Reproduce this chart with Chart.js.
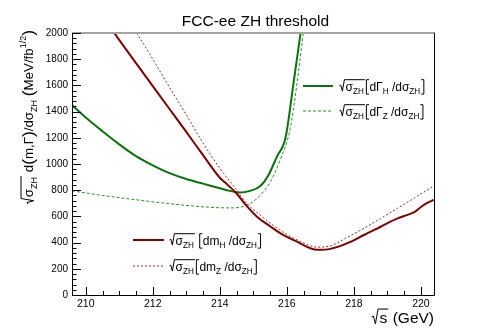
<!DOCTYPE html>
<html>
<head>
<meta charset="utf-8">
<script src="https://cdn.jsdelivr.net/npm/chart.js@4.4.0/dist/chart.umd.min.js"></script>
<style>
  html, body { margin: 0; padding: 0; background: #fff; }
  #c { display: block; }
</style>
</head>
<body>
<canvas id="c" width="482" height="328"></canvas>
<script>
// FCC-ee ZH threshold scan

const xTicks = [210, 212, 214, 216, 218, 220];
const yTicks = [0, 200, 400, 600, 800, 1000, 1200, 1400, 1600, 1800, 2000];

// sqrt(sigma_ZH) dm_H / dsigma_ZH
const dmHx = [210.85, 211.5, 212.0, 212.5, 213.0, 213.5, 214.0, 214.15, 214.5, 214.8, 215.1, 215.5, 215.8, 216.3, 216.9, 217.3, 217.9, 218.3, 218.8, 219.3, 219.6, 219.8, 220.0, 220.2, 220.38];
const dmHy = [2000, 1770, 1595, 1420, 1245, 1068, 895, 860, 775, 680, 600, 525, 472, 407, 345, 352, 405, 458, 521, 585, 612, 632, 672, 705, 725];

// sqrt(sigma_ZH) dm_Z / dsigma_ZH
const dmZx = [211.52, 212.0, 212.5, 213.0, 213.5, 214.0, 214.4, 214.8, 215.2, 215.6, 216.0, 216.5, 216.9, 217.3, 217.8, 218.3, 218.8, 219.3, 219.8, 220.38];
const dmZy = [2000, 1800, 1585, 1375, 1160, 968, 835, 700, 612, 530, 462, 398, 365, 375, 440, 509, 585, 662, 740, 832];

// sqrt(sigma_ZH) dGamma_H / dsigma_ZH
const gHx = [209.59, 210.0, 210.5, 211.0, 211.5, 212.0, 212.5, 213.0, 213.5, 214.0, 214.3, 214.6, 214.9, 215.2, 215.45, 215.7, 215.96, 216.2, 216.41];
const gHy = [1450, 1355, 1250, 1150, 1060, 990, 930, 885, 850, 815, 795, 782, 795, 830, 915, 1055, 1200, 1620, 2000];

// sqrt(sigma_ZH) dGamma_Z / dsigma_ZH
const gZx = [209.59, 210.5, 211.5, 212.5, 213.5, 214.0, 214.4, 214.75, 215.1, 215.5, 215.8, 216.1, 216.3, 216.49];
const gZy = [795, 760, 727, 697, 673, 666, 665, 680, 735, 860, 1030, 1270, 1610, 2000];

const RED = '#7d0000';
const RED_D = '#8e2a2a';
const GREEN = '#0b730b';
const GREEN_D = '#2f8f2f';
const FONT = '"Liberation Sans", Arial, sans-serif';

function pts(xs, ys) {
  return xs.map((v, i) => ({x: v, y: ys[i]}));
}

// draws text with sub/superscripts, radicals and brackets
function rich(ctx, segs, x, y, s, draw) {
  let cx = x;
  for (const g of segs) {
    if (g.sq) {
      const w = rich(ctx, g.sq, cx + s * 0.55, y, s, draw);
      const x1 = cx + s * 0.55 + w + 1;
      if (draw) {
        ctx.beginPath();
        ctx.moveTo(cx + 0.5, y - s * 0.38);
        ctx.lineTo(cx + s * 0.15, y - s * 0.45);
        ctx.lineTo(cx + s * 0.28, y + s * 0.05);
        ctx.lineTo(cx + s * 0.45, y - s * 0.9);
        ctx.lineTo(x1, y - s * 0.9);
        ctx.stroke();
      }
      cx = x1;
    } else if (g.br) {
      if (draw) {
        const bx = g.br === '[' ? cx + 1.5 : cx + s * 0.3;
        const tx = g.br === '[' ? bx + s * 0.22 : bx - s * 0.22;
        ctx.beginPath();
        ctx.moveTo(tx, y - s * 0.9);
        ctx.lineTo(bx, y - s * 0.9);
        ctx.lineTo(bx, y + s * 0.3);
        ctx.lineTo(tx, y + s * 0.3);
        ctx.stroke();
      }
      cx += s * 0.38;
    } else {
      const fs = (g.sub || g.sup) ? s * 0.68 : (g.big ? s * 1.3 : s);
      ctx.font = fs + 'px ' + FONT;
      const dy = g.sub ? s * 0.28 : (g.sup ? -s * 0.5 : (g.big ? s * 0.08 : 0));
      if (draw) ctx.fillText(g.t, cx, y + dy);
      cx += ctx.measureText(g.t).width;
    }
  }
  return cx - x;
}

const sqrtSig = {sq: [{t: 'σ'}, {t: 'ZH', sub: 1}]};

const yTitle = [sqrtSig, {t: ' d'}, {t: '(', big: 1}, {t: 'm,Γ'}, {t: ')', big: 1},
  {t: '/dσ'}, {t: 'ZH', sub: 1}, {t: ' '}, {t: '(', big: 1}, {t: 'MeV/fb'}, {t: '1/2', sup: 1}, {t: ')', big: 1}];
const xTitle = [{sq: [{t: 's'}]}, {t: ' (GeV)'}];

const legGreen = [
  {seg: [sqrtSig, {br: '['}, {t: 'dΓ'}, {t: 'H', sub: 1}, {t: ' /dσ'}, {t: 'ZH', sub: 1}, {br: ']'}], color: GREEN, w: 2, dash: []},
  {seg: [sqrtSig, {br: '['}, {t: 'dΓ'}, {t: 'Z', sub: 1}, {t: ' /dσ'}, {t: 'ZH', sub: 1}, {br: ']'}], color: GREEN_D, w: 1, dash: [3, 2]}
];
const legRed = [
  {seg: [sqrtSig, {t: ' '}, {br: '['}, {t: 'dm'}, {t: 'H', sub: 1}, {t: ' /dσ'}, {t: 'ZH', sub: 1}, {br: ']'}], color: RED, w: 2, dash: []},
  {seg: [sqrtSig, {br: '['}, {t: 'dm'}, {t: 'Z', sub: 1}, {t: ' /dσ'}, {t: 'ZH', sub: 1}, {br: ']'}], color: RED_D, w: 1, dash: [2, 2]}
];

function drawLegend(ctx, items, x0, x1, tx, y0, dy) {
  items.forEach((it, i) => {
    const yy = y0 + i * dy;
    ctx.save();
    ctx.strokeStyle = it.color;
    ctx.lineWidth = it.w;
    ctx.setLineDash(it.dash);
    ctx.beginPath();
    ctx.moveTo(x0, yy);
    ctx.lineTo(x1, yy);
    ctx.stroke();
    ctx.restore();
    rich(ctx, it.seg, tx, yy + 4.5, 12, true);
  });
}

const frame = {
  id: 'frame',
  afterDraw(chart) {
    const {ctx, chartArea: a, scales: {x, y}} = chart;
    ctx.save();
    ctx.fillStyle = '#a3a3a3';
    ctx.fillRect(a.left, a.top - 1, a.right - a.left + 1, 2);
    ctx.strokeStyle = '#000';
    ctx.lineWidth = 1;
    ctx.beginPath();
    ctx.moveTo(a.left + 0.5, a.top);
    ctx.lineTo(a.left + 0.5, a.bottom + 0.5);
    ctx.lineTo(a.right + 0.5, a.bottom + 0.5);
    ctx.lineTo(a.right + 0.5, a.top);
    ctx.stroke();

    ctx.beginPath();
    for (let v = 0; v <= 2000; v += 40) {
      const py = Math.round(y.getPixelForValue(v)) + 0.5;
      const len = v % 200 === 0 ? 9 : 4.5;
      ctx.moveTo(a.left, py);
      ctx.lineTo(a.left + len, py);
    }
    for (let k = 0; k <= 24; k++) {
      const v = 209.5 + k * 0.5;
      if (v < x.min || v > x.max) continue;
      const px = Math.round(x.getPixelForValue(v)) + 0.5;
      const len = k % 4 === 1 ? 8 : 4;
      ctx.moveTo(px, a.bottom);
      ctx.lineTo(px, a.bottom - len);
    }
    ctx.stroke();

    ctx.fillStyle = '#000';
    ctx.textBaseline = 'alphabetic';
    ctx.textAlign = 'left';
    ctx.lineWidth = 1;

    // title
    ctx.font = '15.5px ' + FONT;
    ctx.textAlign = 'center';
    ctx.fillText('FCC-ee ZH threshold', 255.5, 26);
    ctx.textAlign = 'left';

    // x axis title, right aligned
    const wx = rich(ctx, xTitle, 0, 0, 15.5, false);
    rich(ctx, xTitle, a.right - wx, 323, 15.5, true);

    // y axis title, rotated, right aligned at top
    const s = 13.3;
    const wy = rich(ctx, yTitle, 0, 0, s, false);
    ctx.save();
    ctx.translate(33, a.top - 3 + wy);
    ctx.rotate(-Math.PI / 2);
    rich(ctx, yTitle, 0, 0, s, true);
    ctx.restore();

    drawLegend(ctx, legGreen, 303, 333, 339, 86, 25);
    drawLegend(ctx, legRed, 133, 164, 169, 240, 26);
    ctx.restore();
  }
};

const data = {
  datasets: [
    {label: 'dmH', data: pts(dmHx, dmHy), borderColor: RED, borderWidth: 2},
    {label: 'dmZ', data: pts(dmZx, dmZy), borderColor: RED_D, borderWidth: 1, borderDash: [2, 2]},
    {label: 'dGH', data: pts(gHx, gHy), borderColor: GREEN, borderWidth: 2},
    {label: 'dGZ', data: pts(gZx, gZy), borderColor: GREEN_D, borderWidth: 1, borderDash: [3, 2]}
  ]
};

const options = {
  responsive: false,
  maintainAspectRatio: false,
  animation: false,
  devicePixelRatio: 1,
  layout: {padding: {left: 0, top: 33, right: 48, bottom: 0}},
  elements: {
    point: {radius: 0, hoverRadius: 0},
    line: {tension: 0, cubicInterpolationMode: 'monotone', fill: false}
  },
  datasets: {line: {clip: 0}},
  plugins: {legend: {display: false}, title: {display: false}, tooltip: {enabled: false}},
  scales: {
    x: {
      type: 'linear',
      min: 209.59,
      max: 220.39,
      grid: {display: false, drawTicks: false},
      border: {display: false},
      afterBuildTicks: (sc) => { sc.ticks = xTicks.map(v => ({value: v})); },
      afterFit: (sc) => { sc.height = 33; },
      ticks: {color: '#000', padding: 3, maxRotation: 0, autoSkip: false,
        font: {family: FONT, size: 10.5}, callback: (v) => String(v)}
    },
    y: {
      type: 'linear',
      min: 0,
      max: 2000,
      grid: {display: false, drawTicks: false},
      border: {display: false},
      afterBuildTicks: (sc) => { sc.ticks = yTicks.map(v => ({value: v})); },
      afterFit: (sc) => { sc.width = 72; },
      ticks: {color: '#000', padding: 4, autoSkip: false,
        font: {family: FONT, size: 10}, callback: (v) => String(v)}
    }
  }
};

new Chart(document.getElementById('c'), {
  type: 'line',
  data: data,
  options: options,
  plugins: [frame]
});
</script>
</body>
</html>
